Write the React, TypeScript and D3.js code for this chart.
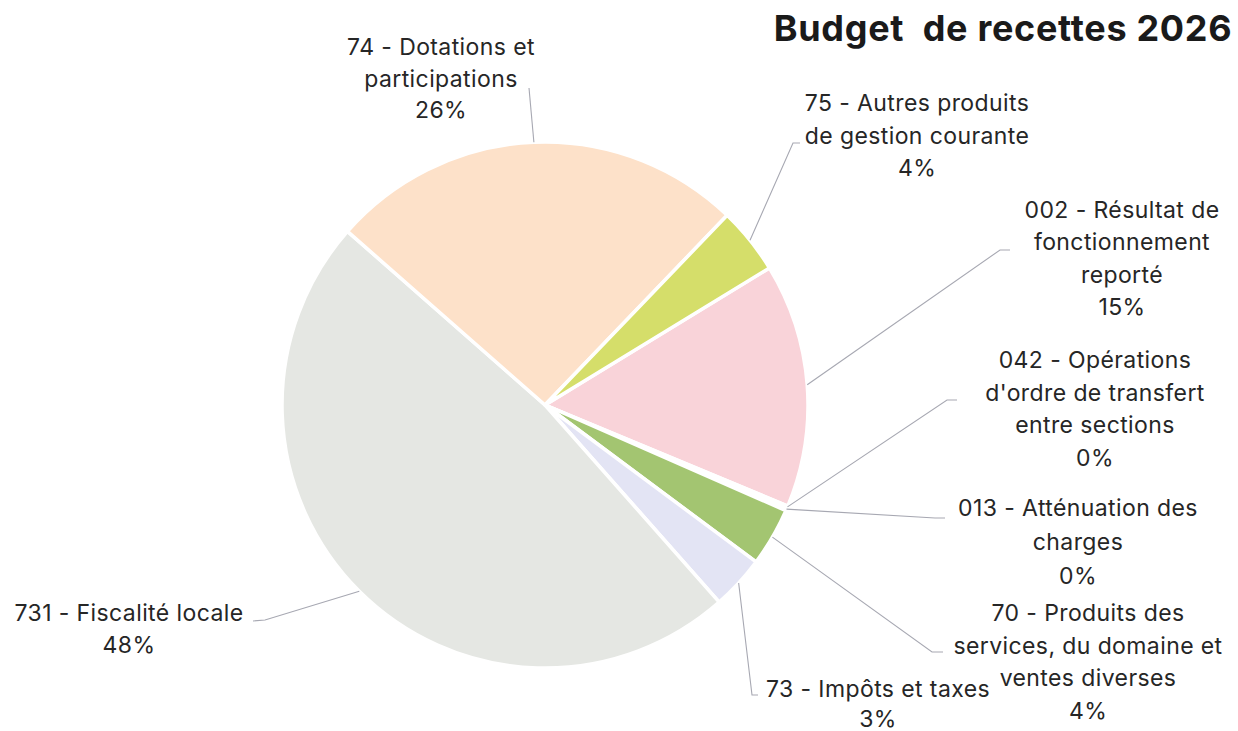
import React from "react";
import * as d3 from "d3";

// categories in clockwise drawing order, starting at the 002 slice
const codes = ["002", "042", "013", "70", "73", "731", "74", "75"];
const labelLines = [
  ["002 - Résultat de", "fonctionnement", "reporté"],
  ["042 - Opérations", "d'ordre de transfert", "entre sections"],
  ["013 - Atténuation des", "charges"],
  ["70 - Produits des", "services, du domaine et", "ventes diverses"],
  ["73 - Impôts et taxes"],
  ["731 - Fiscalité locale"],
  ["74 - Dotations et", "participations"],
  ["75 - Autres produits", "de gestion courante"],
];
// share of the budget, in percent
const values = [15.0, 0.1, 0.2, 3.6, 3.3, 48.0, 25.7, 4.1];
const colors = ["#f9d3d9", "#c9d9ea", "#f4e3b5", "#a3c571", "#e3e4f4", "#e5e7e3", "#fde1c9", "#d5de6a"];

// label placement: text centre, first baseline, line step, leader elbow points
const labelLayout = [
  { x: 1122, y: 218, step: 32.3, leader: [[1000, 250], [1010, 250]] },
  { x: 1095, y: 368, step: 32.5, leader: [[947, 400], [957, 400]] },
  { x: 1078, y: 516, step: 34, leader: [[935, 518], [945, 518]] },
  { x: 1088, y: 621, step: 32.5, leader: [[932, 652], [943, 652]] },
  { x: 878, y: 697, step: 29.5, leader: [[752, 695], [758, 695]] },
  { x: 129, y: 621, step: 32, leader: [[265, 620], [253, 621]] },
  { x: 441, y: 55, step: 31.5, leader: [[529, 88]] },
  { x: 917, y: 111, step: 32.5, leader: [[793, 143], [800, 143]] },
];

const W = 1238;
const H = 731;
const cx = 545;
const cy = 405;
const R = 263;
const startDeg = 58.6;

export default function App() {
  const total = d3.sum(values);
  const pct = d3.format(".0%");
  const start = (startDeg * Math.PI) / 180;
  const pie = d3
    .pie<number>()
    .sort(null)
    .value((d) => d)
    .startAngle(start)
    .endAngle(start + 2 * Math.PI);
  const arcs = pie(values);
  const arc = d3.arc<d3.PieArcDatum<number>>().innerRadius(0).outerRadius(R);
  const line = d3.line();

  const font = "'Inter', 'Noto Sans', sans-serif";

  return (
    <svg
      width={W}
      height={H}
      style={{ position: "absolute", left: 0, top: 0, background: "#fff" }}
    >
      <g transform={`translate(${cx},${cy})`}>
        {arcs.map((a, i) => (
          <path
            key={codes[i]}
            d={arc(a) || ""}
            fill={colors[i]}
            stroke="#fff"
            strokeWidth={3.5}
            strokeLinejoin="round"
          />
        ))}
      </g>

      {arcs.map((a, i) => {
        const mid = (a.startAngle + a.endAngle) / 2;
        const p0: [number, number] = [cx + R * Math.sin(mid), cy - R * Math.cos(mid)];
        const pts = [p0, ...(labelLayout[i].leader as [number, number][])];
        return (
          <path
            key={"l" + codes[i]}
            d={line(pts) || ""}
            fill="none"
            stroke="#a7a8b2"
            strokeWidth={1.1}
          />
        );
      })}

      {arcs.map((a, i) => {
        const lay = labelLayout[i];
        const lines = [...labelLines[i], pct(values[i] / total)];
        return (
          <text
            key={"t" + codes[i]}
            x={lay.x}
            y={lay.y}
            textAnchor="middle"
            fontFamily={font}
            fontSize={23}
            letterSpacing={0.4}
            fill="#262626"
          >
            {lines.map((s, j) => (
              <tspan key={j} x={lay.x} y={lay.y + j * lay.step}>
                {s}
              </tspan>
            ))}
          </text>
        );
      })}

      <text
        x={1003}
        y={41}
        textAnchor="middle"
        fontFamily={font}
        fontSize={36}
        fontWeight={700}
        letterSpacing={0.7}
        fill="#1a1a1a"
        style={{ whiteSpace: "pre" }}
      >
        {"Budget  de recettes 2026"}
      </text>
    </svg>
  );
}
